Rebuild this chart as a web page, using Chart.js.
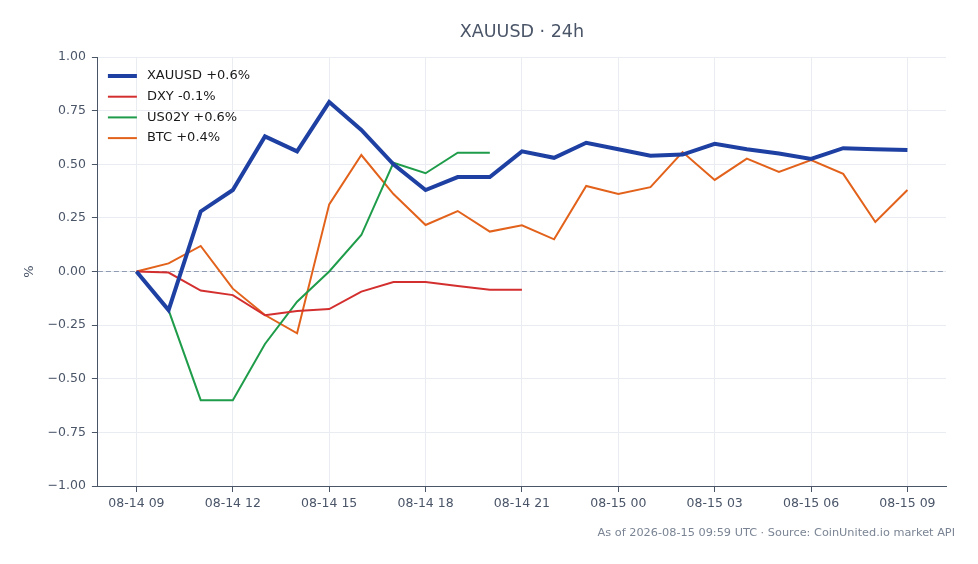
<!DOCTYPE html>
<html>
<head>
<meta charset="utf-8">
<script src="https://cdn.jsdelivr.net/npm/chart.js@4"></script>
<style>
  html, body { margin: 0; padding: 0; background: #fff; }
  #wrap { width: 978px; height: 564px; }
</style>
</head>
<body>
<div id="wrap"><canvas id="chart"></canvas></div>
<script>
'use strict';

// ***** DATA *****
let hours = [0, 1, 2, 3, 4, 5, 6, 7, 8, 9, 10, 11, 12, 13, 14, 15, 16, 17, 18, 19, 20, 21, 22, 23, 24];
let hourLabels = ['08-14 09', '08-14 10', '08-14 11', '08-14 12', '08-14 13', '08-14 14', '08-14 15', '08-14 16',
  '08-14 17', '08-14 18', '08-14 19', '08-14 20', '08-14 21', '08-14 22', '08-14 23', '08-15 00', '08-15 01',
  '08-15 02', '08-15 03', '08-15 04', '08-15 05', '08-15 06', '08-15 07', '08-15 08', '08-15 09'];

let xauusd = [0, -0.18, 0.28, 0.38, 0.63, 0.56, 0.79, 0.66, 0.50, 0.38, 0.44, 0.44, 0.56, 0.53, 0.60, 0.57,
  0.54, 0.545, 0.595, 0.57, 0.55, 0.525, 0.575, 0.57, 0.566];
let dxy = [0, -0.005, -0.089, -0.11, -0.204, -0.184, -0.175, -0.094, -0.049, -0.049, -0.068, -0.085, -0.085];
let us02y = [0, -0.18, -0.60, -0.60, -0.338, -0.141, 0, 0.17, 0.507, 0.458, 0.554, 0.554];
let btc = [0, 0.038, 0.119, -0.08, -0.203, -0.288, 0.313, 0.543, 0.361, 0.217, 0.282, 0.186, 0.215, 0.150,
  0.399, 0.361, 0.393, 0.557, 0.427, 0.526, 0.464, 0.520, 0.455, 0.231, 0.380];

let seriesNames = ['XAUUSD +0.6%', 'DXY -0.1%', 'US02Y +0.6%', 'BTC +0.4%'];
let yTicks = [-1, -0.75, -0.5, -0.25, 0, 0.25, 0.5, 0.75, 1];

let titleText = 'XAUUSD \u00b7 24h';
let footerText = 'As of 2026-08-15 09:59 UTC \u00b7 Source: CoinUnited.io market API';

const FONT = '"DejaVu Sans", sans-serif';

// ***** PLUGINS *****
let zeroLine = {
  id: 'zeroLine',
  beforeDatasetsDraw(chart){
    let ctx = chart.ctx;
    let area = chart.chartArea;
    let y = chart.scales.y.getPixelForValue(0);
    ctx.save();
    ctx.strokeStyle = '#8f9ab3';
    ctx.lineWidth = 1;
    ctx.setLineDash([5, 3]);
    ctx.beginPath();
    ctx.moveTo(area.left, y);
    ctx.lineTo(area.right, y);
    ctx.stroke();
    ctx.restore();
  }
};

// legend drawn inside the plot, top left
let insideLegend = {
  id: 'insideLegend',
  afterDatasetsDraw(chart){
    let ctx = chart.ctx;
    let area = chart.chartArea;
    ctx.save();
    ctx.font = '13px ' + FONT;
    ctx.textBaseline = 'middle';
    chart.data.datasets.forEach((ds, i) => {
      let y = area.top + 19 + i * 20.7;
      ctx.strokeStyle = ds.borderColor;
      ctx.lineWidth = ds.borderWidth;
      ctx.beginPath();
      ctx.moveTo(area.left + 10, y);
      ctx.lineTo(area.left + 39, y);
      ctx.stroke();
      ctx.fillStyle = '#1a1a1a';
      ctx.fillText(ds.label, area.left + 49, y);
    });
    ctx.restore();
  }
};

let footerNote = {
  id: 'footerNote',
  afterDraw(chart){
    let ctx = chart.ctx;
    ctx.save();
    ctx.font = '11.3px ' + FONT;
    ctx.fillStyle = '#7a8494';
    ctx.textAlign = 'right';
    ctx.textBaseline = 'middle';
    ctx.fillText(footerText, chart.width - 23, 533);
    ctx.restore();
  }
};

// ***** CHART *****
function series(values){
  return values.map((v, i) => ({ x: hours[i], y: v }));
}

let chartObj = {
  type: 'line',
  data: {
    datasets: [
      { label: seriesNames[0], data: series(xauusd), borderColor: '#1f40a3', backgroundColor: '#1f40a3', borderWidth: 4 },
      { label: seriesNames[1], data: series(dxy), borderColor: '#d42f2f', backgroundColor: '#d42f2f', borderWidth: 2 },
      { label: seriesNames[2], data: series(us02y), borderColor: '#1f9c4a', backgroundColor: '#1f9c4a', borderWidth: 2 },
      { label: seriesNames[3], data: series(btc), borderColor: '#e2621b', backgroundColor: '#e2621b', borderWidth: 2 }
    ]
  },
  options: {
    responsive: true,
    maintainAspectRatio: false,
    animation: false,
    elements: {
      point: { radius: 0, hoverRadius: 0 },
      line: { tension: 0, borderJoinStyle: 'miter' }
    },
    layout: { padding: { left: 22, right: 32, top: 0, bottom: 49 } },
    plugins: {
      title: {
        display: true,
        text: titleText,
        fullSize: false,
        color: '#4a5568',
        font: { family: FONT, size: 17.5, weight: 'normal' },
        padding: { top: 22, bottom: 14 }
      },
      legend: { display: false },
      tooltip: { enabled: false }
    },
    scales: {
      x: {
        type: 'linear',
        min: -1.2,
        max: 25.2,
        afterBuildTicks(scale){
          scale.ticks = hours.filter(h => h % 3 === 0).map(h => ({ value: h }));
        },
        ticks: {
          color: '#4a5568',
          font: { family: FONT, size: 12.5 },
          padding: 4,
          maxRotation: 0,
          callback: (value) => hourLabels[value]
        },
        grid: { color: '#e9ecf1', tickColor: '#4a5568', tickLength: 6 },
        border: { color: '#4a5568', width: 1 }
      },
      y: {
        min: -1,
        max: 1,
        afterBuildTicks(scale){
          scale.ticks = yTicks.map(v => ({ value: v }));
        },
        ticks: {
          color: '#4a5568',
          font: { family: FONT, size: 12.5 },
          padding: 6,
          callback: (value) => (value < 0 ? '\u2212' : '') + Math.abs(value).toFixed(2)
        },
        title: {
          display: true,
          text: '%',
          color: '#4a5568',
          font: { family: FONT, size: 13 },
          padding: { top: 0, bottom: 4 }
        },
        grid: { color: '#e9ecf1', tickColor: '#4a5568', tickLength: 6 },
        border: { color: '#4a5568', width: 1 }
      }
    }
  },
  plugins: [zeroLine, insideLegend, footerNote]
};

new Chart(document.getElementById('chart'), chartObj);
</script>
</body>
</html>
